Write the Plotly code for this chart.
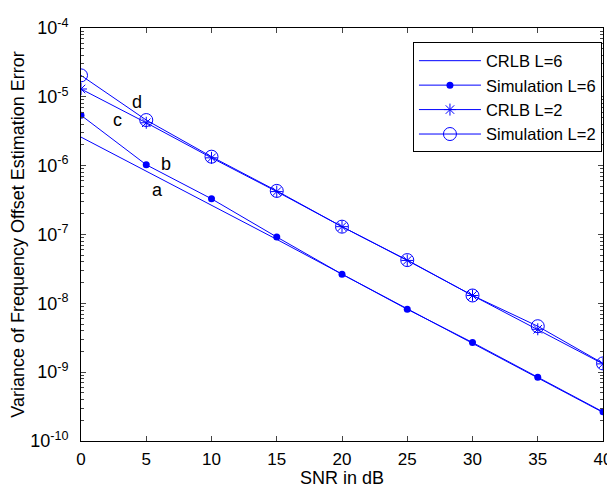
import math
import plotly.graph_objects as go

snr = [0, 5, 10, 15, 20, 25, 30, 35, 40]
crlb_l6 = [2.6e-6, 8.3e-7, 2.7e-7, 8.5e-8, 2.65e-8, 8.3e-9, 2.65e-9, 8.3e-10, 2.6e-10]
sim_l6 = [5.4e-6, 1.03e-6, 3.3e-7, 9.2e-8, 2.65e-8, 8.2e-9, 2.7e-9, 8.45e-10, 2.65e-10]
crlb_l2 = [1.3e-5, 4.2e-6, 1.3e-6, 4.2e-7, 1.3e-7, 4.2e-8, 1.3e-8, 4.2e-9, 1.32e-9]
sim_l2 = [2.05e-5, 4.6e-6, 1.35e-6, 4.3e-7, 1.3e-7, 4.25e-8, 1.3e-8, 4.65e-9, 1.34e-9]

ann_text = ["a", "b", "c", "d"]
ann_x = [5.85, 6.55, 2.8, 4.3]
ann_y = [4.4e-7, 1.05e-6, 4.6e-6, 8.4e-6]

ytick_vals = [1e-4, 1e-5, 1e-6, 1e-7, 1e-8, 1e-9, 1e-10]
ytick_text = ["10<sup>-4</sup>", "10<sup>-5</sup>", "10<sup>-6</sup>", "10<sup>-7</sup>",
              "10<sup>-8</sup>", "10<sup>-9</sup>", "10<sup>-10</sup>"]
xtick_vals = [0, 5, 10, 15, 20, 25, 30, 35, 40]

blue = "#0000FF"
font = "Liberation Sans, Arial, sans-serif"

fig = go.Figure()
fig.add_trace(go.Scatter(x=snr, y=crlb_l6, mode="lines", name="CRLB L=6",
                         line=dict(color=blue, width=1)))
fig.add_trace(go.Scatter(x=snr, y=sim_l6, mode="lines+markers", name="Simulation L=6",
                         line=dict(color=blue, width=1),
                         marker=dict(symbol="circle", size=7, color=blue)))
fig.add_trace(go.Scatter(x=snr, y=crlb_l2, mode="lines+markers", name="CRLB L=2",
                         line=dict(color=blue, width=1),
                         marker=dict(symbol="asterisk-open", size=10, color=blue,
                                     line=dict(color=blue, width=1))))
fig.add_trace(go.Scatter(x=snr, y=sim_l2, mode="lines+markers", name="Simulation L=2",
                         line=dict(color=blue, width=1),
                         marker=dict(symbol="circle-open", size=13, color=blue,
                                     line=dict(color=blue, width=1))))

for t, x, y in zip(ann_text, ann_x, ann_y):
    fig.add_annotation(x=x, y=math.log10(y), yref="y", xref="x", text=t, showarrow=False,
                       font=dict(size=18, color="black", family=font))

# the page body adds an 8px offset, so the figure is 8px smaller
fig.update_layout(
    width=607, height=480,
    margin=dict(l=73, r=12, t=20, b=47, autoexpand=False),
    paper_bgcolor="white", plot_bgcolor="white",
    font=dict(family=font, size=14, color="black"),
    showlegend=True,
    legend=dict(x=0.998, y=0.965, xanchor="right", yanchor="top",
                bgcolor="white", bordercolor="black", borderwidth=1,
                font=dict(size=16.5, family=font), tracegroupgap=0,
                itemwidth=62),
)
fig.update_xaxes(range=[0, 40], tickvals=xtick_vals, ticks="inside", ticklen=5,
                 showgrid=False, zeroline=False, showline=True, linecolor="black",
                 linewidth=1, mirror="allticks", automargin=False,
                 ticklabelstandoff=3,
                 title=dict(text="SNR in dB", standoff=3, font=dict(size=18)),
                 tickfont=dict(size=17))
fig.update_yaxes(type="log", range=[-10, -4], tickvals=ytick_vals, ticktext=ytick_text,
                 ticks="inside", ticklen=5, showgrid=False, zeroline=False,
                 showline=True, linecolor="black", linewidth=1, mirror="allticks",
                 automargin=False, ticklabelstandoff=8,
                 minor=dict(ticks="inside", ticklen=3, dtick="D1", showgrid=False),
                 title=dict(text="Variance of Frequency Offset Estimation Error",
                            standoff=10, font=dict(size=18)),
                 tickfont=dict(size=18))

fig.write_html("out.html")
